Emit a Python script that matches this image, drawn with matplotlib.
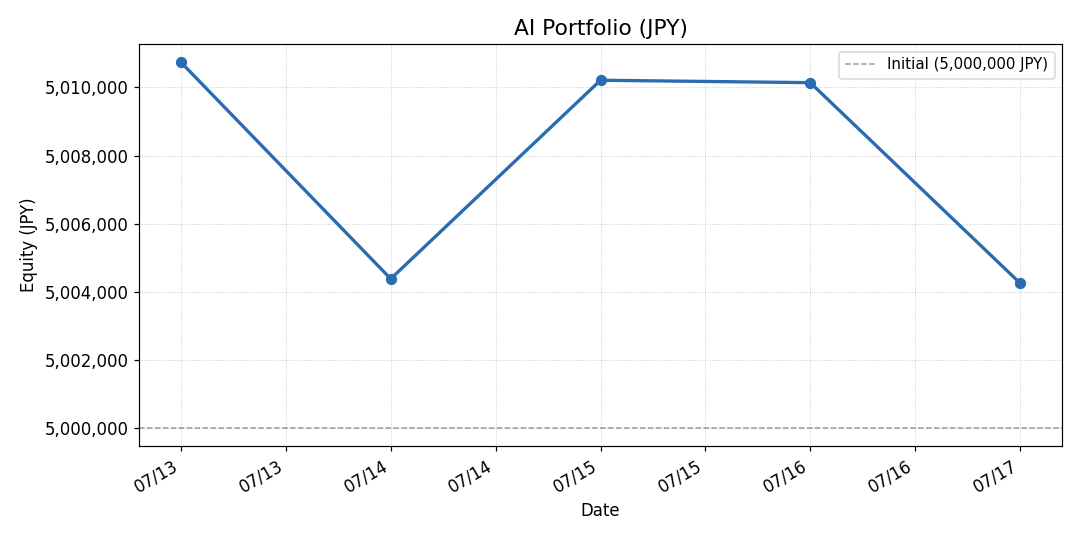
import matplotlib
matplotlib.use("Agg")
import matplotlib.pyplot as plt
import matplotlib.dates as mdates
from matplotlib.ticker import FuncFormatter
import pandas as pd

dates = ["2025-07-13", "2025-07-14", "2025-07-15", "2025-07-16", "2025-07-17"]
equity = [5010740, 5004376, 5010212, 5010141, 5004250]
initial = 5000000

x = pd.to_datetime(dates)

fig, ax = plt.subplots(figsize=(10, 5), dpi=108)
ax.plot(x, equity, marker="o", color="#2b6cb0", linewidth=2.2, markersize=6.5)
ax.axhline(initial, color="gray", linestyle="--", linewidth=1, alpha=0.8,
           label="Initial (5,000,000 JPY)")
ax.set_title("AI Portfolio (JPY)", fontsize=14.5)
ax.set_xlabel("Date", fontsize=11)
ax.set_ylabel("Equity (JPY)", fontsize=11)
ax.tick_params(labelsize=11)
ax.yaxis.set_major_formatter(FuncFormatter(lambda v, p: f"{v:,.0f}"))
ax.xaxis.set_major_locator(mdates.HourLocator(byhour=[0, 12]))
ax.xaxis.set_major_formatter(mdates.DateFormatter("%m/%d"))
ax.grid(True, linestyle=":", linewidth=0.6, alpha=0.7)
ax.legend(loc="upper right", fontsize=10)
fig.autofmt_xdate()
fig.subplots_adjust(left=139/1080, right=1062/1080, top=1-44/540, bottom=1-446/540)
fig.savefig("out.png", dpi=108)
